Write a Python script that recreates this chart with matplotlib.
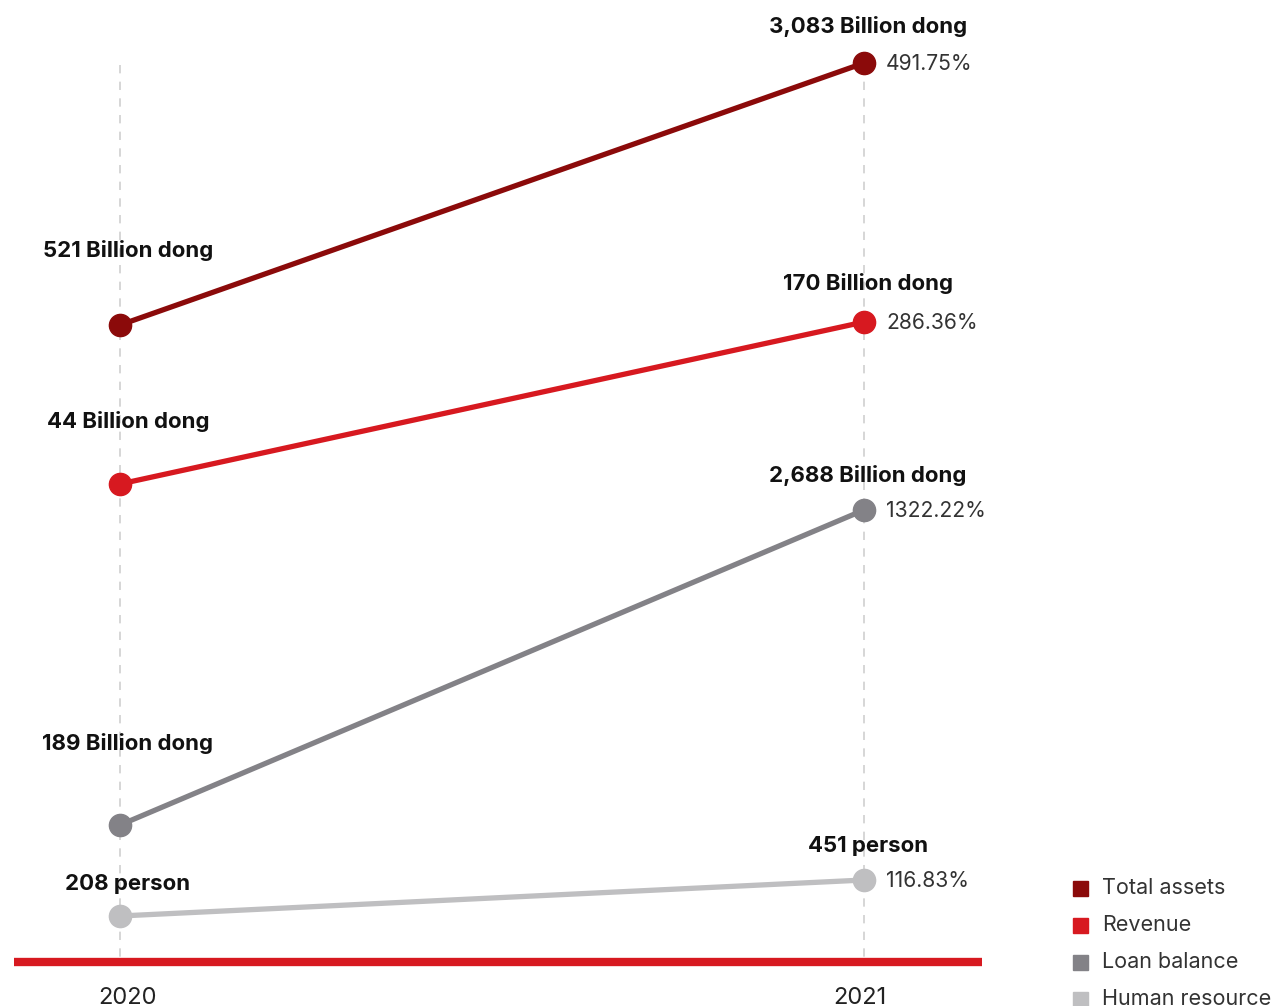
import matplotlib
matplotlib.use("Agg")
import matplotlib.pyplot as plt
from matplotlib.patches import Rectangle

plt.rcParams["font.family"] = ["Inter", "DejaVu Sans"]

years = [2020, 2021]
series = ["Total assets", "Revenue", "Loan balance", "Human resource"]
start_labels = ["521 Billion dong", "44 Billion dong", "189 Billion dong", "208 person"]
end_labels = ["3,083 Billion dong", "170 Billion dong", "2,688 Billion dong", "451 person"]
growth = ["491.75%", "286.36%", "1322.22%", "116.83%"]
colors = ["#8b0a0a", "#d71920", "#838287", "#bfbfc1"]

# each series sits in its own band (pixel rows from the top), not a shared scale
row_y = [(325, 63), (484, 322), (825, 510), (916, 880)]
label_gap = [(75, 37), (62, 39), (81, 35), (32, 34)]

W, H = 1274, 1006
fig = plt.figure(figsize=(W / 100, H / 100), dpi=100)
ax = fig.add_axes([0, 0, 1, 1])
px = 744  # pixels per year
x0 = 120
ax.set_xlim(2020 - x0 / px, 2020 + (W - x0) / px)
ax.set_ylim(H, 0)
ax.axis("off")

for yr in years:
    ax.plot([yr, yr], [65, 962], color="#cfcfcf", lw=1.2, ls=(0, (5, 5)), zorder=1)

ax.plot([2020 - 106 / px, 2020 + 862 / px], [962, 962], color="#d71920", lw=6,
        solid_capstyle="butt", zorder=2)

for yr, dx in zip(years, [8, -4]):
    ax.text(yr + dx / px, 998, str(yr), ha="center", va="center", fontsize=17,
            color="#222222")

for name, c, ys, gaps, a, b, g in zip(series, colors, row_y, label_gap,
                                      start_labels, end_labels, growth):
    ax.plot(years, ys, color=c, lw=3.8, marker="o", ms=16, mec=c, zorder=3)
    ax.text(2020 + 8 / px, ys[0] - gaps[0], a, ha="center", va="center",
            fontsize=16, fontweight="bold", color="#111111")
    ax.text(2021 + 4 / px, ys[1] - gaps[1], b, ha="center", va="center",
            fontsize=16, fontweight="bold", color="#111111")
    ax.text(2021 + 22 / px, ys[1] + 1, g, ha="left", va="center",
            fontsize=15.2, color="#333333")

# legend as coloured squares with labels
for i, (name, c) in enumerate(zip(series, colors)):
    yy = 888 + i * 37
    ax.add_patch(Rectangle((2020 + (1073 - x0) / px, yy + 8), 15 / px, -15,
                           color=c, clip_on=False))
    ax.text(2020 + (1102 - x0) / px, yy, name, ha="left", va="center",
            fontsize=15.5, color="#333333")

fig.savefig("out.png", dpi=100)
